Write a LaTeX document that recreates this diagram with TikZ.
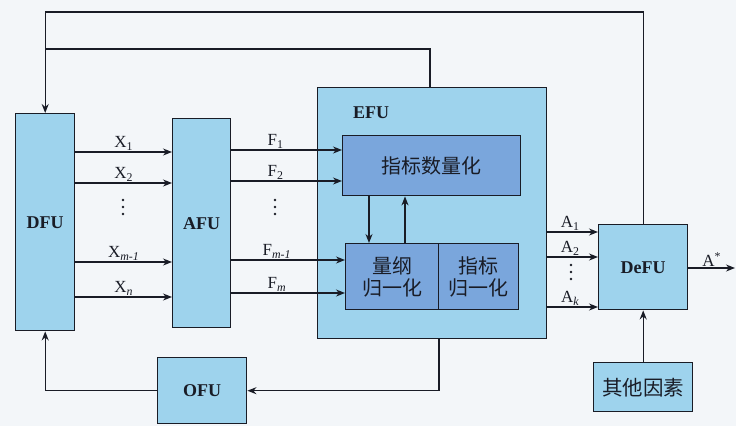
\documentclass[tikz,border=0pt]{standalone}
\usepackage{fontspec}
\setmainfont{Liberation Serif}
\newfontfamily\cjk{Noto Sans CJK SC}
\usetikzlibrary{arrows.meta}
\definecolor{bgc}{RGB}{243,246,249}
\definecolor{boxblue}{RGB}{158,211,237}
\definecolor{innerblue}{RGB}{122,166,220}
\definecolor{ink}{RGB}{25,28,38}
\tikzset{
  unit/.style={draw=ink, line width=1.4pt, fill=boxblue, inner sep=0pt, anchor=north west,
    text=ink, font=\fontsize{18}{21}\selectfont\bfseries},
  inner/.style={draw=ink, line width=1.4pt, fill=innerblue, inner sep=0pt, anchor=north west,
    text=ink, font=\cjk\fontsize{20}{25}\selectfont, align=center},
  cjkbox/.style={unit, font=\cjk\fontsize{20.5}{24}\selectfont},
  conn/.style={draw=ink, line width=1.4pt},
  arr/.style={conn, -{Stealth[length=9pt,width=7pt]}},
  lab/.style={text=ink, font=\fontsize{17}{20}\selectfont, inner sep=1pt},
  dotmark/.style={circle, fill=ink, inner sep=0pt, minimum size=2.6pt}
}
\begin{document}
\begin{tikzpicture}[x=1pt,y=-1pt]
\fill[bgc] (0,0) rectangle (736,426);
\useasboundingbox (0,0) rectangle (736,426);

% main units
\node[unit, minimum width=59pt, minimum height=217pt] (DFU) at (15,113) {DFU};
\node[unit, minimum width=58pt, minimum height=209pt] (AFU) at (172,118) {AFU};
\node[unit, minimum width=229pt, minimum height=251pt] (EFU) at (317,87) {};
\node[text=ink, font=\fontsize{18}{21}\selectfont\bfseries, inner sep=0pt] (efulab) at (371,113) {EFU};
\node[inner, minimum width=178pt, minimum height=60pt] (quant) at (342,135) {指标数量化};
\node[inner, minimum width=93pt, minimum height=66pt] (dim) at (345,243) {量纲\\[-3pt]归一化};
\node[inner, minimum width=80pt, minimum height=66pt] (idx) at (438,243) {指标\\[-3pt]归一化};
\node[unit, minimum width=89pt, minimum height=85pt] (DeFU) at (598,224) {DeFU};
\node[cjkbox, minimum width=99pt, minimum height=49pt] (other) at (593,362) {其他因素};
\node[unit, minimum width=89pt, minimum height=66pt] (OFU) at (157,357) {OFU};
\coordinate (aout) at (735,268);

% X arrows
\draw[arr] (DFU.east |- 0,152) -- node[lab, above] {X\textsubscript{1}} (AFU.west |- 0,152);
\draw[arr] (DFU.east |- 0,183) -- node[lab, above] {X\textsubscript{2}} (AFU.west |- 0,183);
\draw[arr] (DFU.east |- 0,262) -- node[lab, above] {X\textsubscript{\itshape m-1}} (AFU.west |- 0,262);
\draw[arr] (DFU.east |- 0,297) -- node[lab, above] {X\textsubscript{\itshape n}} (AFU.west |- 0,297);
\foreach \yy [count=\i] in {200,207,214} \node[dotmark] (xd\i) at (123,\yy) {};

% F arrows
\draw[arr] (AFU.east |- 0,150) -- node[lab, above, pos=0.4] {F\textsubscript{1}} (quant.west |- 0,150);
\draw[arr] (AFU.east |- 0,181) -- node[lab, above, pos=0.4] {F\textsubscript{2}} (quant.west |- 0,181);
\draw[arr] (AFU.east |- 0,260) -- node[lab, above, pos=0.4] {F\textsubscript{\itshape m-1}} (dim.west |- 0,260);
\draw[arr] (AFU.east |- 0,293) -- node[lab, above, pos=0.4] {F\textsubscript{\itshape m}} (dim.west |- 0,293);
\foreach \yy [count=\i] in {200,207,214} \node[dotmark] (fd\i) at (275,\yy) {};

% inside EFU
\draw[arr] (quant.south -| 369,0) -- (dim.north -| 369,0);
\draw[arr] (dim.north -| 405,0) -- (quant.south -| 405,0);

% A arrows
\draw[arr] (EFU.east |- 0,232) -- node[lab, above, pos=0.45] {A\textsubscript{1}} (DeFU.west |- 0,232);
\draw[arr] (EFU.east |- 0,257) -- node[lab, above, pos=0.45] {A\textsubscript{2}} (DeFU.west |- 0,257);
\draw[arr] (EFU.east |- 0,307) -- node[lab, above, pos=0.45] {A\textsubscript{\itshape k}} (DeFU.west |- 0,307);
\foreach \yy [count=\i] in {265,272,279} \node[dotmark] (ad\i) at (571,\yy) {};
\draw[arr] (DeFU.east |- aout) -- node[lab, above] {A\textsuperscript{*}} (aout);
\draw[arr] (other.north) -- (DeFU.south);

% feedback loops
\draw[arr] (DeFU.north) -- (DeFU.north |- 0,12) -- (DFU.north |- 0,12) -- (DFU.north);
\draw[conn] (EFU.north -| 430,0) |- (DFU.north |- 0,49);
\draw[arr] (EFU.south -| 439,0) |- (OFU.east);
\draw[arr] (OFU.west) -| (DFU.south);
\end{tikzpicture}
\end{document}
